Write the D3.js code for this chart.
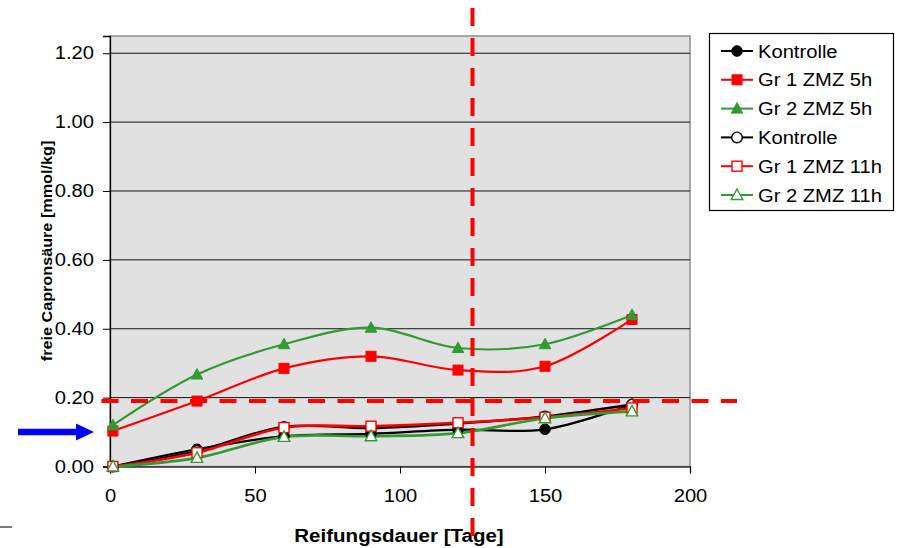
<!DOCTYPE html>
<html>
<head>
<meta charset="utf-8">
<script src="https://cdn.jsdelivr.net/npm/d3@7"></script>
<style>
  html, body { margin: 0; padding: 0; background: #fff; }
  svg { display: block; font-family: "Liberation Sans", Arial, sans-serif; }
</style>
</head>
<body>
<svg id="chart" width="901" height="548"></svg>
<script>
// Sampling days (Reifungsdauer)
const days = [1, 30, 60, 90, 120, 150, 180];

// Free caproic acid [mmol/kg] per group
const kontrolle5h = [0, 0.05, 0.088, 0.095, 0.107, 0.108, 0.18];
const gr1Zmz5h    = [0.103, 0.19, 0.285, 0.32, 0.28, 0.291, 0.427];
const gr2Zmz5h    = [0.12, 0.267, 0.355, 0.403, 0.344, 0.355, 0.44];
const kontrolle11h = [0, 0.045, 0.115, 0.112, 0.125, 0.145, 0.18];
const gr1Zmz11h   = [0, 0.04, 0.113, 0.117, 0.127, 0.143, 0.17];
const gr2Zmz11h   = [0, 0.025, 0.086, 0.088, 0.097, 0.14, 0.16];

const seriesNames = ["Kontrolle", "Gr 1 ZMZ 5h", "Gr 2 ZMZ 5h", "Kontrolle", "Gr 1 ZMZ 11h", "Gr 2 ZMZ 11h"];

// Axis ticks
const xTicks = [0, 50, 100, 150, 200];
const yTicks = [0, 0.2, 0.4, 0.6, 0.8, 1.0, 1.2];

// Reference lines
const refDay = 125;
const refValue = 0.19;

const RED = "#ff0000", GREEN = "#339933", BLACK = "#000000";

const series = [
  { name: seriesNames[0], values: kontrolle5h,  color: BLACK, shape: "circle",   filled: true },
  { name: seriesNames[1], values: gr1Zmz5h,     color: RED,   shape: "square",   filled: true },
  { name: seriesNames[2], values: gr2Zmz5h,     color: GREEN, shape: "triangle", filled: true },
  { name: seriesNames[3], values: kontrolle11h, color: BLACK, shape: "circle",   filled: false },
  { name: seriesNames[4], values: gr1Zmz11h,    color: RED,   shape: "square",   filled: false },
  { name: seriesNames[5], values: gr2Zmz11h,    color: GREEN, shape: "triangle", filled: false }
];

const svg = d3.select("#chart");

const plot = { left: 110, right: 690, top: 36, bottom: 466.5 };

const x = d3.scaleLinear().domain([0, 200]).range([plot.left, plot.right]);
const y = d3.scaleLinear().domain([0, 1.25]).range([plot.bottom, plot.top]);

// Slightly widened text, as in the original office-chart rendering
function widen(sel, factor) {
  sel.each(function () {
    const len = this.getComputedTextLength();
    d3.select(this).attr("textLength", len * factor).attr("lengthAdjust", "spacingAndGlyphs");
  });
}

// Plot area background
svg.append("rect")
  .attr("x", plot.left).attr("y", plot.top)
  .attr("width", plot.right - plot.left).attr("height", plot.bottom - plot.top)
  .attr("fill", "#e1e1e1").attr("stroke", "#808080").attr("stroke-width", 1.3);

// Horizontal gridlines
svg.append("g").selectAll("line")
  .data(yTicks.filter(d => d > 0))
  .join("line")
  .attr("x1", plot.left).attr("x2", plot.right)
  .attr("y1", d => y(d)).attr("y2", d => y(d))
  .attr("stroke", "#111").attr("stroke-width", 1);

// Y axis
const yAxis = svg.append("g")
  .attr("transform", `translate(${plot.left},0)`)
  .call(d3.axisLeft(y).tickValues(yTicks).tickFormat(d3.format(".2f")).tickSize(7).tickPadding(9));
yAxis.select(".domain").attr("stroke", "#000").attr("stroke-width", 1.3);
yAxis.selectAll(".tick line").attr("stroke", "#000");
yAxis.selectAll("text").attr("font-size", 18).attr("fill", "#000").attr("font-family", "Liberation Sans, Arial, sans-serif");
widen(yAxis.selectAll("text"), 1.12);

// X axis
const xAxis = svg.append("g")
  .attr("transform", `translate(0,${plot.bottom})`)
  .call(d3.axisBottom(x).tickValues(xTicks).tickFormat(d3.format("d")).tickSize(7).tickPadding(16));
xAxis.select(".domain").attr("stroke", "#333").attr("stroke-width", 1.3);
xAxis.selectAll(".tick line").attr("stroke", "#000");
xAxis.selectAll("text").attr("font-size", 18).attr("fill", "#000").attr("font-family", "Liberation Sans, Arial, sans-serif");
widen(xAxis.selectAll("text"), 1.12);

// Axis titles
const xTitle = svg.append("text")
  .attr("x", 399).attr("y", 542)
  .attr("text-anchor", "middle")
  .attr("font-size", 18).attr("font-weight", "bold")
  .text("Reifungsdauer [Tage]");
widen(xTitle, 1.14);

const yTitle = svg.append("text")
  .attr("transform", "translate(52,251) rotate(-90)")
  .attr("text-anchor", "middle")
  .attr("font-size", 15).attr("font-weight", "bold")
  .text("freie Capronsäure [mmol/kg]");
widen(yTitle, 1.08);

// Series lines (smoothed)
const line = d3.line()
  .x(d => x(d[0]))
  .y(d => y(d[1]))
  .curve(d3.curveCardinal.tension(0));

function marker(g, s, cx, cy) {
  const fill = s.filled ? s.color : "#fff";
  const sw = s.filled ? 1 : 1.4;
  if (s.shape === "circle") {
    g.append("circle").attr("cx", cx).attr("cy", cy).attr("r", 5.3)
      .attr("fill", fill).attr("stroke", s.color).attr("stroke-width", sw);
  } else if (s.shape === "square") {
    g.append("rect").attr("x", cx - 5).attr("y", cy - 5).attr("width", 10).attr("height", 10)
      .attr("fill", fill).attr("stroke", s.color).attr("stroke-width", sw);
  } else {
    const h = 10, w = 11.5;
    g.append("path")
      .attr("d", `M${cx},${cy - h * 0.6}L${cx + w / 2},${cy + h * 0.45}L${cx - w / 2},${cy + h * 0.45}Z`)
      .attr("fill", fill).attr("stroke", s.color).attr("stroke-width", sw);
  }
}

const linesG = svg.append("g");
series.forEach(s => {
  const pts = days.map((d, i) => [d, s.values[i]]);
  linesG.append("path")
    .datum(pts)
    .attr("d", line)
    .attr("fill", "none")
    .attr("stroke", s.color)
    .attr("stroke-width", s.filled ? 2.2 : 2.6);
});

const markersG = svg.append("g");
series.forEach(s => {
  days.forEach((d, i) => marker(markersG, s, x(d), y(s.values[i])));
});

// Reference lines
svg.append("line")
  .attr("x1", x(refDay)).attr("x2", x(refDay))
  .attr("y1", 8).attr("y2", 548)
  .attr("stroke", RED).attr("stroke-width", 4)
  .attr("stroke-dasharray", "18,12");

svg.append("line")
  .attr("x1", 101.5).attr("x2", 737)
  .attr("y1", y(refValue)).attr("y2", y(refValue))
  .attr("stroke", RED).attr("stroke-width", 4)
  .attr("stroke-dasharray", "17,12.5");

// Blue arrow pointing at the initial level
const arrowY = 432;
svg.append("line")
  .attr("x1", 18).attr("x2", 78)
  .attr("y1", arrowY).attr("y2", arrowY)
  .attr("stroke", "#0000ff").attr("stroke-width", 6.5);
svg.append("path")
  .attr("d", `M76,${arrowY - 8.5}L94,${arrowY}L76,${arrowY + 8.5}Z`)
  .attr("fill", "#0000ff");

// Small mark at bottom-left
svg.append("line")
  .attr("x1", 0).attr("x2", 12).attr("y1", 527).attr("y2", 527)
  .attr("stroke", "#333").attr("stroke-width", 1.3);

// Legend
const legend = svg.append("g");
legend.append("rect")
  .attr("x", 709.5).attr("y", 33.5).attr("width", 184).attr("height", 177)
  .attr("fill", "#fff").attr("stroke", "#000").attr("stroke-width", 1.2);

series.forEach((s, i) => {
  const cy = 51 + i * 28.8;
  legend.append("line")
    .attr("x1", 721).attr("x2", 753).attr("y1", cy).attr("y2", cy)
    .attr("stroke", s.color).attr("stroke-width", 2);
  marker(legend, s, 737, cy);
  const t = legend.append("text")
    .attr("x", 758).attr("y", cy + 6.5)
    .attr("font-size", 18).attr("fill", "#000")
    .text(s.name);
  widen(t, 1.12);
});
</script>
</body>
</html>
